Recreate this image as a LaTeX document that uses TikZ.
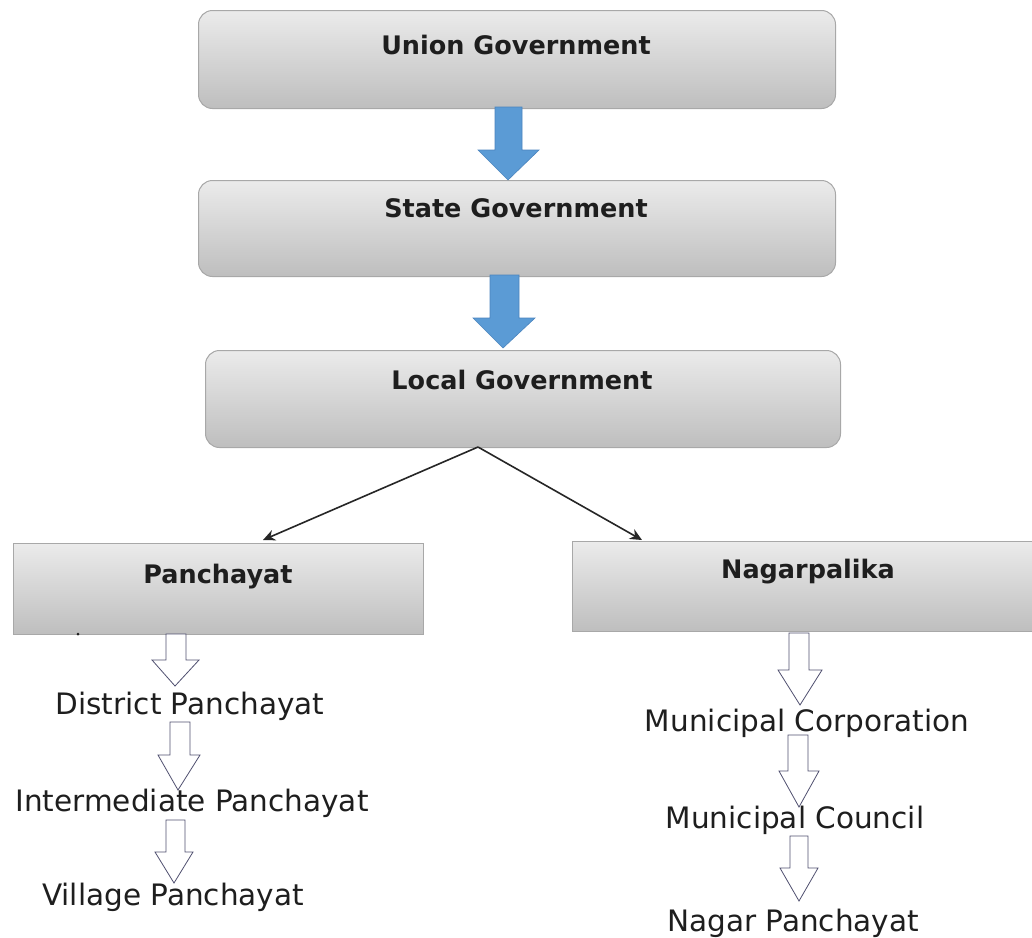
\documentclass[tikz,border=0pt]{standalone}
\usepackage{fontspec}
\setmainfont{DejaVu Sans}
\usetikzlibrary{calc,arrows.meta}
\definecolor{boxtop}{HTML}{EBEBEB}
\definecolor{boxbot}{HTML}{BEBEBE}
\definecolor{boxline}{HTML}{A8A8A8}
\definecolor{bluefill}{HTML}{5B9BD5}
\definecolor{blueline}{HTML}{4A84BE}
\definecolor{hollowline}{HTML}{505070}
\definecolor{txt}{HTML}{1E1E1E}
\tikzset{
  gbox/.style={draw=boxline, line width=1pt, top color=boxtop, bottom color=boxbot, inner sep=0pt, anchor=north west},
  rbox/.style={gbox, rounded corners=14pt},
  title/.style={font=\bfseries\fontsize{25.5}{28}\selectfont, text=txt},
  lvl/.style={font=\fontsize{29.5}{32}\selectfont, text=txt, inner sep=0pt},
  bluearrow/.style={fill=bluefill, draw=blueline, line width=0.6pt},
  hollow/.style={fill=white, draw=hollowline, line width=0.8pt, line join=miter},
  conn/.style={draw=black!85, line width=1.6pt, -{Stealth[length=12pt,width=11pt]}}
}
\begin{document}
\begin{tikzpicture}[x=1pt,y=-1pt]
\useasboundingbox (0,0) rectangle (1032,937);
\fill[white] (0,0) rectangle (1032,937);
% top boxes
\node[rbox, minimum width=637pt, minimum height=98pt] (union) at (198,10) {};
\node[title] (uniont) at (516,45) {Union Government};
\node[rbox, minimum width=637pt, minimum height=96pt] (state) at (198,180) {};
\node[title] (statet) at (516,208) {State Government};
\node[rbox, minimum width=635pt, minimum height=97pt] (local) at (205,350) {};
\node[title] (localt) at (522,380) {Local Government};
% blue arrows
\draw[bluearrow] (495,107) -- (522,107) -- (522,150) -- (539,150) -- (508,180) -- (478,150) -- (495,150) -- cycle;
\draw[bluearrow] (490,275) -- (519,275) -- (519,318) -- (535,318) -- (503,348) -- (473,318) -- (490,318) -- cycle;
% second level boxes
\node[gbox, minimum width=410pt, minimum height=91pt] (panch) at (13,543) {};
\node[title] (pancht) at (218,577) {Panchayat};
\node[gbox, minimum width=470pt, minimum height=90pt] (nagar) at (572,541) {};
\node[title] (nagart) at (808,572) {Nagarpalika};
\coordinate (split) at (478,447);
\draw[conn] (split) -- (263,540);
\draw[conn] (split) -- (642,540);
\fill[txt] (78,634) circle (1.5pt);
% left chain
\node[lvl] (dist) at (190,706) {District Panchayat};
\node[lvl] (inter) at (192,803) {Intermediate Panchayat};
\node[lvl] (vill) at (173,897) {Village Panchayat};
\draw[hollow] (166,634) -- (186,634) -- (186,660) -- (199,660) -- (175,686) -- (152,660) -- (166,660) -- cycle;
\draw[hollow] (170,722) -- (190,722) -- (190,755) -- (200,755) -- (178,790) -- (158,755) -- (170,755) -- cycle;
\draw[hollow] (166,820) -- (185,820) -- (185,852) -- (193,852) -- (174,883) -- (155,852) -- (166,852) -- cycle;
% right chain
\node[lvl] (mcorp) at (807,723) {Municipal Corporation};
\node[lvl] (mcoun) at (795,820) {Municipal Council};
\node[lvl] (nagp) at (793,923) {Nagar Panchayat};
\draw[hollow] (789,633) -- (809,633) -- (809,670) -- (822,670) -- (800,705) -- (778,670) -- (789,670) -- cycle;
\draw[hollow] (788,735) -- (808,735) -- (808,771) -- (819,771) -- (799,807) -- (779,771) -- (788,771) -- cycle;
\draw[hollow] (790,836) -- (808,836) -- (808,868) -- (818,868) -- (799,901) -- (780,868) -- (790,868) -- cycle;
\end{tikzpicture}
\end{document}
